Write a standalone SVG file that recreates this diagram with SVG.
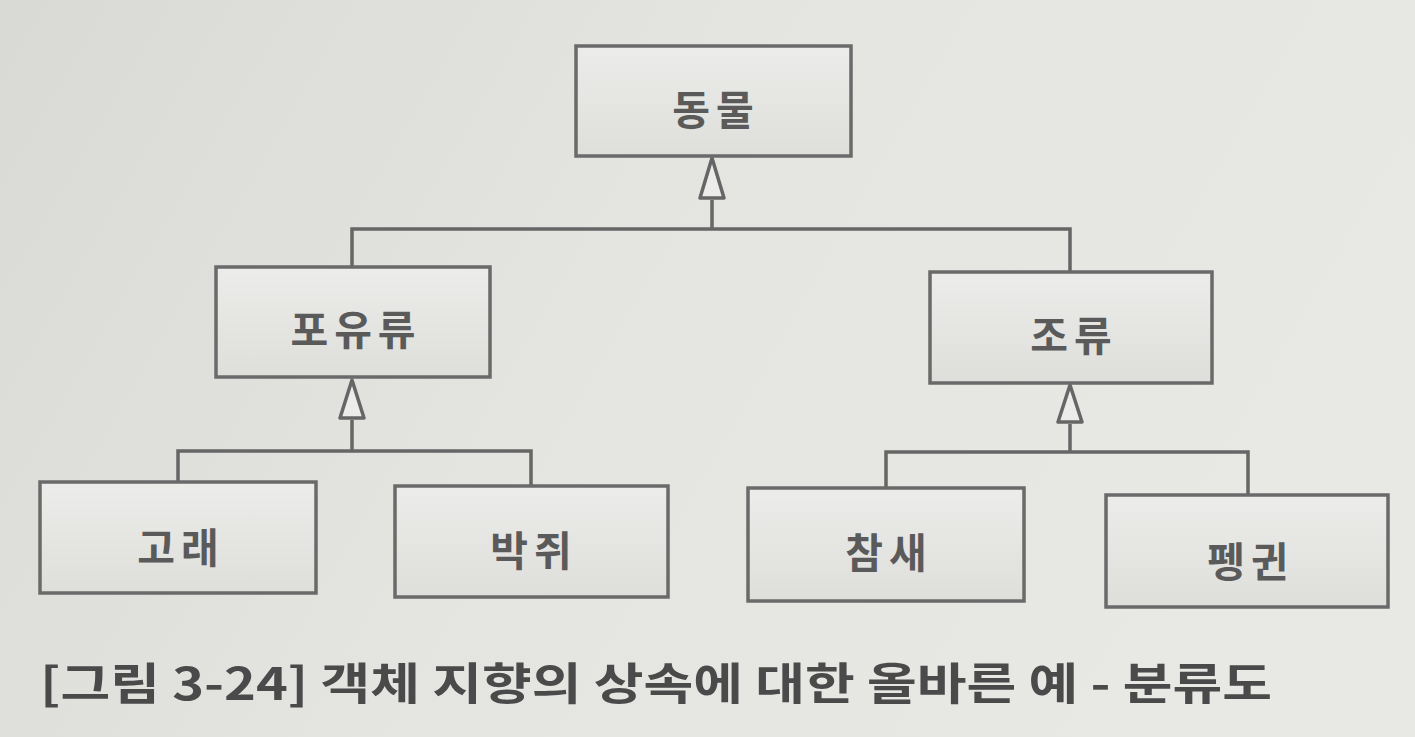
<svg xmlns="http://www.w3.org/2000/svg" width="1415" height="737" viewBox="0 0 1415 737">
<defs>
<linearGradient id="bg" x1="0" y1="0" x2="1" y2="0.3">
<stop offset="0" stop-color="#d9d9d6"/>
<stop offset="0.5" stop-color="#e4e4e1"/>
<stop offset="1" stop-color="#e8e8e5"/>
</linearGradient>
<linearGradient id="box" x1="0" y1="0" x2="0" y2="1">
<stop offset="0" stop-color="#ececea"/>
<stop offset="1" stop-color="#dededb"/>
</linearGradient>
<style>
.node rect{fill:url(#box);stroke:#6a6a6a;stroke-width:3.5}
.node text{font-family:"Noto Sans CJK KR","Noto Sans",sans-serif;font-size:41px;font-weight:bold;fill:#5a5a5a;text-anchor:middle;letter-spacing:6px}
.conn path{fill:none;stroke:#666;stroke-width:3.5}
.conn polygon{fill:#ececea;stroke:#666;stroke-width:3.5;stroke-linejoin:round}
.cap{font-family:"Noto Sans CJK KR","Noto Sans",sans-serif;font-size:44px;font-weight:bold;fill:#4a4a4a}
</style>
</defs>
<rect width="1415" height="737" fill="url(#bg)"/>
<g id="connectors" class="conn">
<path d="M712 200 V229 M352 266 V229 H1070 V271"/>
<polygon points="712,158 700,198 724,198"/>
<path d="M352 420 V451 M178 481 V451 H531 V486"/>
<polygon points="352,380 340,418 364,418"/>
<path d="M1070 424 V452 M886 488 V452 H1248 V495"/>
<polygon points="1070,385 1058,422 1082,422"/>
</g>
<g id="n-animal" class="node"><rect x="576" y="46" width="275" height="110"/><text x="716" y="125">동물</text></g>
<g id="n-mammal" class="node"><rect x="216" y="267" width="274" height="110"/><text x="356" y="345">포유류</text></g>
<g id="n-bird" class="node"><rect x="930" y="272" width="282" height="111"/><text x="1074" y="351">조류</text></g>
<g id="n-whale" class="node"><rect x="40" y="482" width="276" height="111"/><text x="181" y="563">고래</text></g>
<g id="n-bat" class="node"><rect x="395" y="486" width="273" height="111"/><text x="534" y="566">박쥐</text></g>
<g id="n-sparrow" class="node"><rect x="748" y="488" width="276" height="113"/><text x="889" y="568">참새</text></g>
<g id="n-penguin" class="node"><rect x="1106" y="495" width="282" height="112"/><text x="1251" y="577">펭귄</text></g>
<text class="cap" x="40" y="700" textLength="1232" lengthAdjust="spacingAndGlyphs">[그림 3-24] 객체 지향의 상속에 대한 올바른 예 - 분류도</text>
</svg>
